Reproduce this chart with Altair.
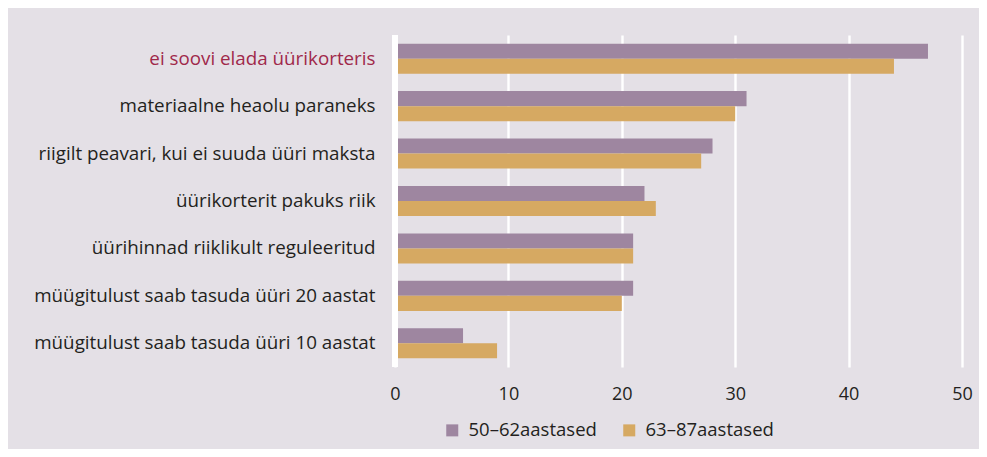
import altair as alt
import pandas as pd

categories = [
    "ei soovi elada üürikorteris",
    "materiaalne heaolu paraneks",
    "riigilt peavari, kui ei suuda üüri maksta",
    "üürikorterit pakuks riik",
    "üürihinnad riiklikult reguleeritud",
    "müügitulust saab tasuda üüri 20 aastat",
    "müügitulust saab tasuda üüri 10 aastat",
]
series = ["50–62aastased", "63–87aastased"]
values_50_62 = [47, 31, 28, 22, 21, 21, 6]
values_63_87 = [44, 30, 27, 23, 21, 20, 9]
x_ticks = [0, 10, 20, 30, 40, 50]
colors = ["#9e86a0", "#d6a962"]

rows = []
for c, a, b in zip(categories, values_50_62, values_63_87):
    rows.append({"kategooria": c, "grupp": series[0], "vaartus": a})
    rows.append({"kategooria": c, "grupp": series[1], "vaartus": b})
df = pd.DataFrame(rows)

font = "Open Sans"

bars = (
    alt.Chart(df)
    .mark_bar()
    .encode(
        x=alt.X(
            "vaartus:Q",
            scale=alt.Scale(domain=[0, 50], nice=False, zero=True),
            axis=alt.Axis(
                values=x_ticks,
                title=None,
                domain=False,
                ticks=False,
                grid=True,
                gridColor="white",
                gridWidth=2.4,
                labelFont=font,
                labelFontSize=18,
                labelColor="#231f20",
                labelPadding=18,
                labelFlush=False,
            ),
        ),
        y=alt.Y(
            "kategooria:N",
            sort=categories,
            scale=alt.Scale(paddingInner=0.367, paddingOuter=0.183),
            axis=alt.Axis(
                title=None,
                domain=False,
                ticks=False,
                grid=False,
                labelFont=font,
                labelFontSize=18.8,
                labelLimit=500,
                labelPadding=20,
                labelColor=alt.condition(
                    "datum.value === 'ei soovi elada üürikorteris'",
                    alt.value("#a0284a"),
                    alt.value("#231f20"),
                ),
            ),
        ),
        yOffset=alt.YOffset("grupp:N", sort=series, scale=alt.Scale(paddingInner=0, paddingOuter=0)),
        color=alt.Color(
            "grupp:N",
            sort=series,
            scale=alt.Scale(domain=series, range=colors),
            legend=alt.Legend(
                title=None,
                orient="none",
                legendX=48,
                legendY=386,
                direction="horizontal",
                symbolType="square",
                symbolSize=144,
                symbolStrokeWidth=0,
                symbolOpacity=1,
                labelFont=font,
                labelFontSize=18.5,
                labelColor="#231f20",
                labelOffset=7,
                columnPadding=23,
                labelLimit=300,
            ),
        ),
    )
)

zero_line = (
    alt.Chart(df)
    .mark_rule(color="white", strokeWidth=5)
    .encode(x=alt.datum(0))
)

chart = (
    alt.layer(bars, zero_line)
    .properties(
        width=567,
        height=332,
        padding={"left": 387, "top": 27, "right": 17, "bottom": 82},
        autosize=alt.AutoSizeParams(type="none"),
        background="#e4e0e6",
    )
    .configure_view(stroke=None)
)

chart.save("out.html", embed_options={"renderer": "svg", "actions": False})
